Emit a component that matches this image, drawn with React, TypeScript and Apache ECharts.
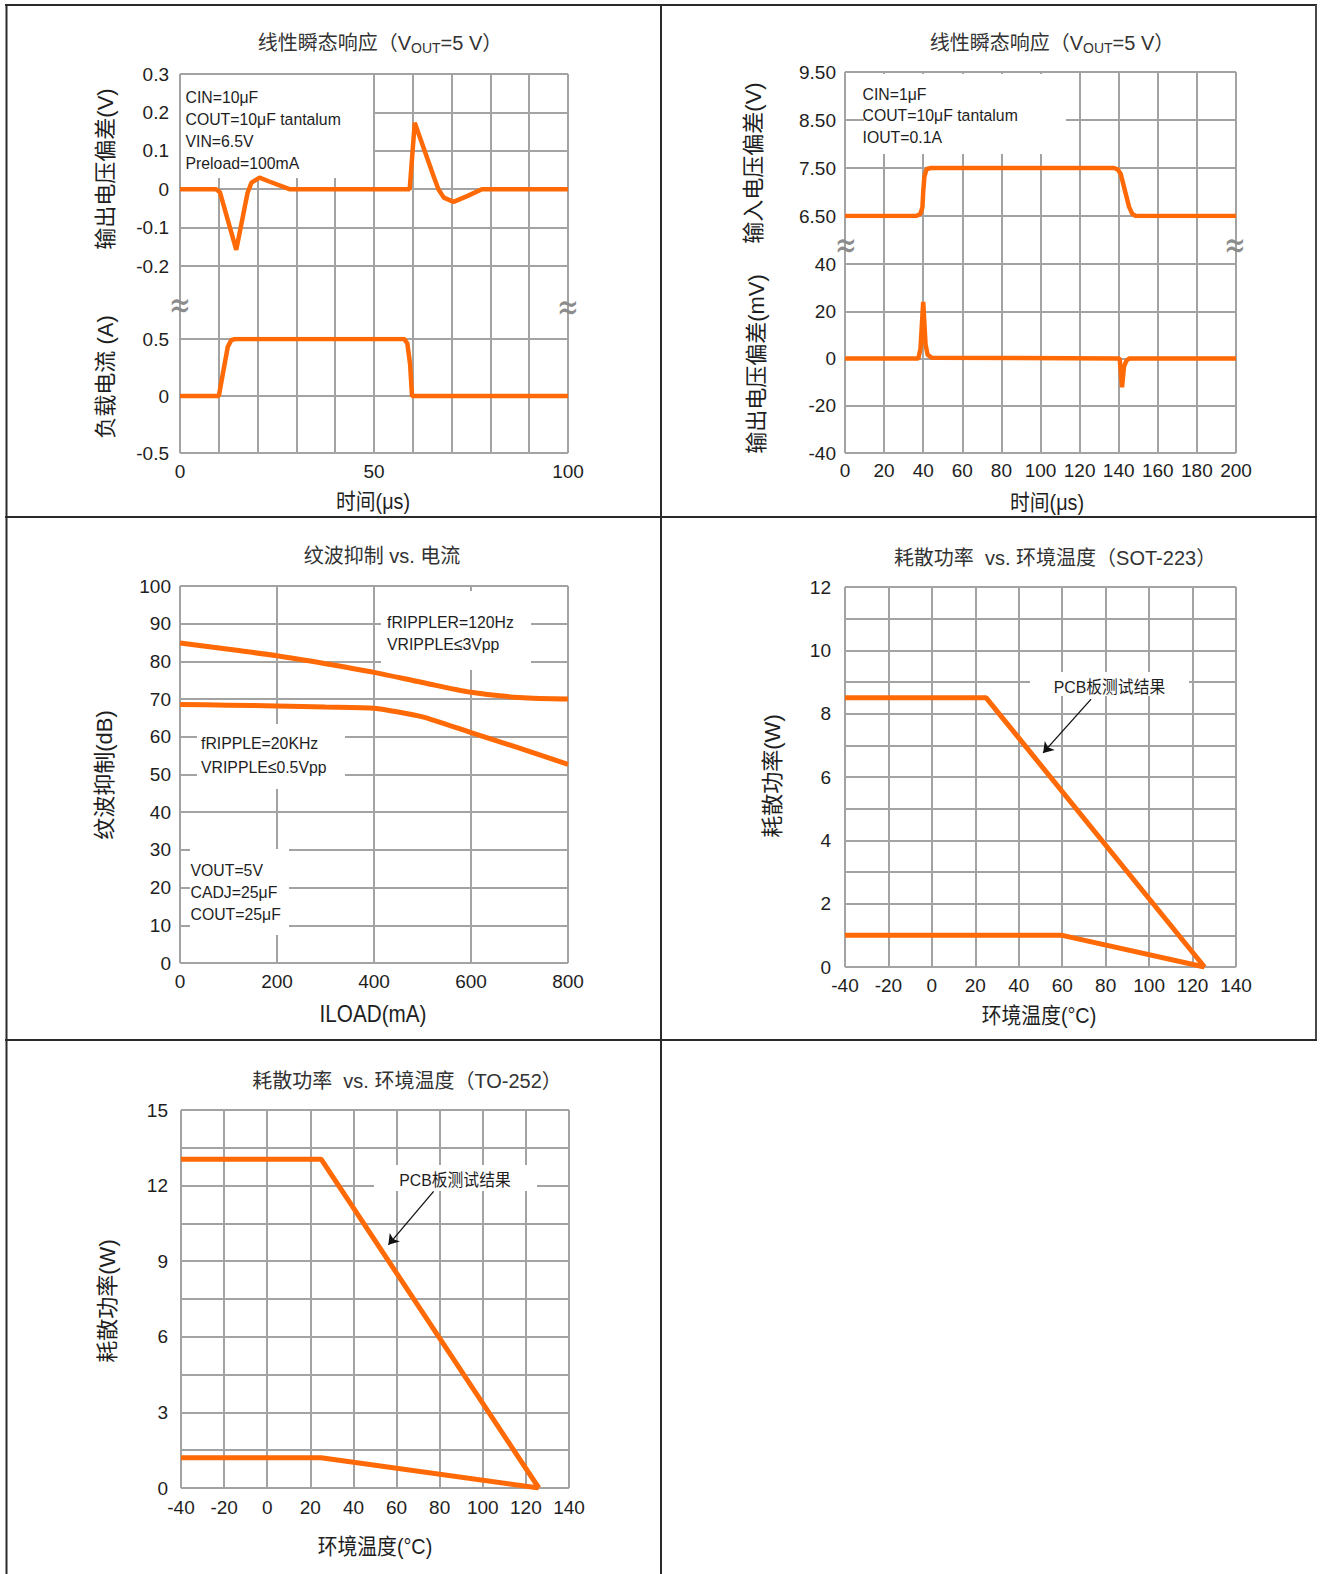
import React, { useEffect, useRef } from 'react';
import * as echarts from 'echarts';

// ---------- colours & fonts ----------
const ORANGE = '#ff6a06';
const GRID = '#a3a3a3';
const TXT = '#1e1e1e';
const TITLE = '#333333';
const FONT = "'Liberation Sans', 'Noto Sans CJK SC', sans-serif";

// ---------- Chart 1: 线性瞬态响应 (负载) ----------
const C1_T = [0, 9.3, 10.3, 14.5, 17.4, 18.4, 20.5, 23.0, 28.2, 59.2, 60.5, 65.5, 66.6, 68.0, 70.5, 74.0, 77.8, 100];
const C1_DV = [0, 0, -0.008, -0.158, -0.01, 0.017, 0.03, 0.02, 0, 0, 0.173, 0.03, 0.0, -0.022, -0.033, -0.018, 0, 0];
const C1_IT = [0, 10.0, 12.3, 13.2, 14.2, 57.8, 58.6, 59.3, 59.8, 100];
const C1_IL = [0, 0, 0.43, 0.49, 0.5, 0.5, 0.46, 0.28, 0, 0];
const C1_NOTES = ['CIN=10μF', 'COUT=10μF tantalum', 'VIN=6.5V', 'Preload=100mA'];

// ---------- Chart 2: 线性瞬态响应 (输入) ----------
const C2_T_IN = [0, 36.4, 38.5, 39.6, 40.0, 40.6, 41.8, 43.9, 137.5, 139.5, 141.0, 145.3, 147.0, 148.8, 200];
const C2_VIN = [6.5, 6.5, 6.54, 6.68, 7.0, 7.32, 7.48, 7.5, 7.5, 7.47, 7.38, 6.69, 6.54, 6.5, 6.5];
const C2_T_OUT = [0, 37.5, 38.6, 40.0, 41.2, 42.3, 44.5, 140.5, 141.7, 142.7, 144.0, 145.5, 200];
const C2_DVOUT = [0, 0, 4, 24, 6, 1.5, 0.3, 0, -12.2, -3.5, -0.8, 0, 0];
const C2_NOTES = ['CIN=1μF', 'COUT=10μF tantalum', 'IOUT=0.1A'];

// ---------- Chart 3: 纹波抑制 vs. 电流 ----------
const C3_ILOAD = [0, 100, 200, 300, 400, 500, 600, 700, 800];
const C3_120HZ = [84.9, 83.2, 81.5, 79.4, 77.1, 74.4, 71.8, 70.4, 70.0];
const C3_20KHZ = [68.6, 68.4, 68.2, 67.9, 67.6, 65.3, 61.1, 57.0, 52.7];
const C3_NOTE_120 = ['fRIPPLER=120Hz', 'VRIPPLE≤3Vpp'];
const C3_NOTE_20K = ['fRIPPLE=20KHz', 'VRIPPLE≤0.5Vpp'];
const C3_NOTE_COND = ['VOUT=5V', 'CADJ=25μF', 'COUT=25μF'];

// ---------- Chart 4: SOT-223 ----------
const C4_T_A = [-40, 25, 125.5];
const C4_P_A = [8.5, 8.5, 0];
const C4_T_B = [-40, 60, 125.5];
const C4_P_B = [1, 1, 0];
const C4_ARROW = [[73.3, 8.46], [51.2, 6.76]];

// ---------- Chart 5: TO-252 ----------
const C5_T_A = [-40, 25, 126];
const C5_P_A = [13.05, 13.05, 0];
const C5_T_B = [-40, 25, 126];
const C5_P_B = [1.2, 1.2, 0];
const C5_ARROW = [[77.2, 11.77], [56.2, 9.65]];

const zip = (xs: number[], ys: number[]) => xs.map((x, i) => [x, ys[i]]);

const split = { show: true, lineStyle: { color: GRID, width: 2 } };
const lbl = (margin: number, extra: any = {}) => ({
  show: true, fontFamily: FONT, fontSize: 19, color: TXT, margin, ...extra,
});

function axis(gridIndex: number, min: number, max: number, interval: number, o: any = {}) {
  return {
    type: 'value', gridIndex, min, max, interval,
    axisLine: { show: false }, axisTick: { show: false },
    axisLabel: { show: false }, splitLine: { show: false }, ...o,
  };
}

function lineSeries(x: number, y: number, data: number[][], width: number, extra: any = {}) {
  return {
    type: 'line', xAxisIndex: x, yAxisIndex: y, data, symbol: 'none', showSymbol: false,
    lineStyle: { color: ORANGE, width }, itemStyle: { color: ORANGE }, z: 3, ...extra,
  };
}

function arrow(pts: number[][]) {
  return {
    silent: true, symbol: ['none', 'arrow'], symbolSize: 10, label: { show: false },
    lineStyle: { color: '#111', width: 1.3, type: 'solid' }, itemStyle: { color: '#111' },
    data: [[{ coord: pts[0] }, { coord: pts[1] }]],
  };
}

const txt = (x: number, y: number, text: string, size: number, o: any = {}) => ({
  type: 'text', x, y, z: 5,
  style: {
    text, fontSize: size, fontFamily: FONT, fill: TXT, lineHeight: o.lh || size + 2,
    align: o.align || 'left', verticalAlign: 'middle',
    textAlign: o.align || 'left', textVerticalAlign: 'middle', ...(o.style || {}),
  },
  ...(o.el || {}),
});
const note = (x: number, y: number, text: string, o: any = {}) =>
  txt(x, y, text, 17, { lh: 19, ...o, el: { scaleX: 0.93 } });
const vtxt = (x: number, y: number, text: string, size: number) =>
  txt(x, y, text, size, { align: 'center', el: { rotation: Math.PI / 2 } });
const htxt = (x: number, y: number, text: string, size: number) =>
  txt(x, y, text, size, { align: 'center', el: { scaleX: 0.9 } });
const title = (x: number, y: number, text: string) => ({
  type: 'text', x, y, z: 5,
  style: {
    text, fontSize: 20, fontFamily: FONT, fill: TITLE,
    align: 'center', verticalAlign: 'middle', textAlign: 'center', textVerticalAlign: 'middle',
    rich: { sub: { fontSize: 14, fontFamily: FONT, fill: TITLE, padding: [9, 0, 0, 0] } },
  },
});
const box = (x: number, y: number, w: number, h: number) => ({
  type: 'rect', z: 1, shape: { x, y, width: w, height: h }, style: { fill: '#ffffff' },
});
const rule = (x1: number, y1: number, x2: number, y2: number, color = '#2a2a2a') => ({
  type: 'line', z: 10, shape: { x1, y1, x2, y2 }, style: { stroke: color, lineWidth: 2 },
});
const brk = (x: number, y: number) => ({
  type: 'text', x, y, z: 5, scaleY: 1.5,
  style: {
    text: '≈', fontSize: 26, fontFamily: 'DejaVu Sans', fill: '#8c8c8c',
    align: 'center', verticalAlign: 'middle', textAlign: 'center', textVerticalAlign: 'middle',
  },
});

function buildOption() {
  const grid = [
    { left: 180, top: 74, width: 388, height: 379 },
    { left: 180, top: 74, width: 388, height: 192 },
    { left: 180, top: 339, width: 388, height: 114 },
    { left: 845, top: 72, width: 391, height: 381 },
    { left: 845, top: 72, width: 391, height: 144 },
    { left: 845, top: 264, width: 391, height: 189 },
    { left: 180, top: 586, width: 388, height: 377 },
    { left: 845, top: 587, width: 391, height: 380 },
    { left: 181, top: 1110, width: 388, height: 378 },
  ];
  const xAxis = [
    axis(0, 0, 100, 10, { splitLine: split }),
    axis(1, 0, 100, 10),
    axis(2, 0, 100, 50, { axisLabel: lbl(9) }),
    axis(3, 0, 200, 20, { splitLine: split }),
    axis(4, 0, 200, 20),
    axis(5, 0, 200, 20, { axisLabel: lbl(8) }),
    axis(6, 0, 800, 200, { splitLine: split, axisLabel: lbl(9) }),
    axis(7, -40, 140, 20, { splitLine: split, axisLabel: lbl(9) }),
    axis(8, -40, 140, 20, { splitLine: split, axisLabel: lbl(10) }),
  ];
  const yAxis = [
    axis(0, 0, 1, 1, { show: false }),
    axis(1, -0.2, 0.3, 0.1, { splitLine: split, axisLabel: lbl(11) }),
    axis(2, -0.5, 0.5, 0.5, { splitLine: split, axisLabel: lbl(11) }),
    axis(3, 0, 1, 1, { show: false }),
    axis(4, 6.5, 9.5, 1, { splitLine: split, axisLabel: lbl(9, { formatter: (v: number) => v.toFixed(2) }) }),
    axis(5, -40, 40, 20, { splitLine: split, axisLabel: lbl(9) }),
    axis(6, 0, 100, 10, { splitLine: split, axisLabel: lbl(9) }),
    axis(7, 0, 12, 1, { splitLine: split, axisLabel: lbl(14, { formatter: (v: number) => (Math.round(v) % 2 === 0 ? String(Math.round(v)) : '') }) }),
    axis(8, 0, 15, 1.5, {
      splitLine: split,
      axisLabel: lbl(13, { formatter: (v: number) => (Math.abs(v / 3 - Math.round(v / 3)) < 1e-6 ? String(Math.round(v)) : '') }),
    }),
  ];
  const series = [
    lineSeries(1, 1, zip(C1_T, C1_DV), 4.5),
    lineSeries(2, 2, zip(C1_IT, C1_IL), 4.5),
    lineSeries(4, 4, zip(C2_T_IN, C2_VIN), 4.5),
    lineSeries(5, 5, zip(C2_T_OUT, C2_DVOUT), 4.5),
    lineSeries(6, 6, zip(C3_ILOAD, C3_120HZ), 5, { smooth: 0.3 }),
    lineSeries(6, 6, zip(C3_ILOAD, C3_20KHZ), 5, { smooth: 0.2 }),
    lineSeries(7, 7, zip(C4_T_A, C4_P_A), 5, { markLine: arrow(C4_ARROW) }),
    lineSeries(7, 7, zip(C4_T_B, C4_P_B), 5),
    lineSeries(8, 8, zip(C5_T_A, C5_P_A), 5, { markLine: arrow(C5_ARROW) }),
    lineSeries(8, 8, zip(C5_T_B, C5_P_B), 5),
  ];

  const elements: any[] = [
    // table rules
    rule(5, 5, 1317, 5), rule(6.5, 5, 6.5, 1574), rule(1316, 5, 1316, 1041, '#4a4a4a'),
    rule(5, 517, 1317, 517), rule(5, 1040, 1317, 1040), rule(661, 5, 661, 1574),
    // titles
    title(380, 43, '线性瞬态响应（V{sub|OUT}=5 V）'),
    title(1052, 43, '线性瞬态响应（V{sub|OUT}=5 V）'),
    title(382, 556, '纹波抑制 vs. 电流'),
    title(1055, 558, '耗散功率  vs. 环境温度（SOT-223）'),
    title(407, 1081, '耗散功率  vs. 环境温度（TO-252）'),
    // axis names
    vtxt(105, 169, '输出电压偏差(V)', 22),
    vtxt(105, 377, '负载电流 (A)', 22),
    vtxt(753, 163, '输入电压偏差(V)', 22),
    vtxt(756, 364, '输出电压偏差(mV)', 22),
    vtxt(104, 775, '纹波抑制(dB)', 22),
    vtxt(772, 776, '耗散功率(W)', 22),
    vtxt(107, 1301, '耗散功率(W)', 22),
    htxt(373, 501, '时间(μs)', 22),
    htxt(1047, 502, '时间(μs)', 22),
    htxt(373, 1014, 'ILOAD(mA)', 23),
    htxt(1039, 1015, '环境温度(°C)', 22),
    htxt(375, 1546, '环境温度(°C)', 22),
    // break marks
    brk(180, 304), brk(568, 306), brk(846, 244), brk(1235, 244),
    // annotation boxes
    box(181, 75, 192, 103),
    box(864, 74, 202, 80),
    box(381, 591, 150, 79),
    box(197, 724, 148, 65),
    box(190, 849, 99, 86),
    box(1030, 672, 159, 24),
    box(374, 1165, 163, 26),
  ];
  C1_NOTES.forEach((s, i) => elements.push(note(185.5, 96.5 + i * 22.2, s)));
  C2_NOTES.forEach((s, i) => elements.push(note(862.5, 93.3 + i * 21.7, s)));
  C3_NOTE_120.forEach((s, i) => elements.push(note(387, 621.5 + i * 22, s)));
  C3_NOTE_20K.forEach((s, i) => elements.push(note(201, 743 + i * 24, s)));
  C3_NOTE_COND.forEach((s, i) => elements.push(note(190.5, 869.3 + i * 22.1, s)));
  elements.push(note(1109.5, 686.5, 'PCB板测试结果', { align: 'center' }));
  elements.push(note(455, 1179.5, 'PCB板测试结果', { align: 'center' }));

  return {
    animation: false,
    backgroundColor: '#ffffff',
    grid, xAxis, yAxis, series,
    graphic: { elements },
  };
}

export default function App() {
  const ref = useRef<HTMLDivElement>(null);
  useEffect(() => {
    if (!ref.current) return;
    const chart = echarts.init(ref.current, undefined, { renderer: 'svg' });
    chart.setOption(buildOption() as any);
    return () => chart.dispose();
  }, []);
  return (
    <div
      ref={ref}
      style={{ position: 'absolute', left: 0, top: 0, width: 1322, height: 1574, background: '#fff' }}
    />
  );
}
